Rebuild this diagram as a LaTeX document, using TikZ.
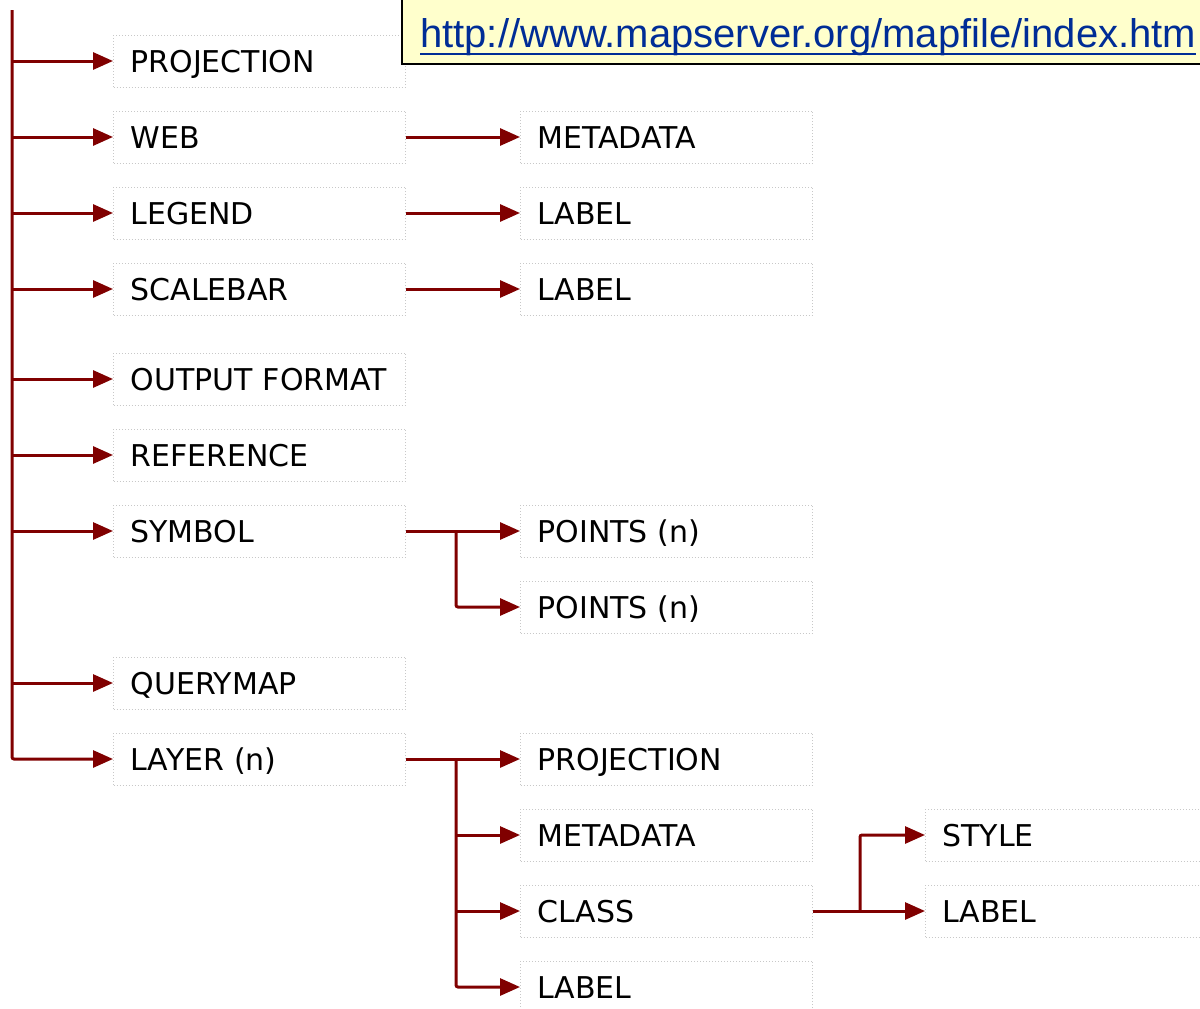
\documentclass[tikz,border=0pt]{standalone}
\usepackage{fontspec}
\setmainfont{DejaVu Sans}
\newfontfamily\urlfont{Liberation Sans}
\usetikzlibrary{arrows.meta}
\definecolor{arrred}{RGB}{128,0,0}
\definecolor{boxgray}{RGB}{200,200,200}
\definecolor{urlbg}{RGB}{255,255,204}
\definecolor{urlblue}{RGB}{0,45,150}
\begin{document}
\begin{tikzpicture}[x=1pt,y=-1pt,
  tbox/.style={draw=boxgray, line width=1pt, dash pattern=on 1pt off 2pt,
    anchor=west, minimum width=292pt, minimum height=52pt, text width=258pt,
    inner xsep=17pt, inner ysep=0pt, text height=22pt, text depth=0pt,
    align=left, font=\fontsize{30}{36}\selectfont},
  conn/.style={draw=arrred, line width=3pt, rounded corners=2pt,
    -{Triangle[length=20pt,width=17pt]}},
  urltext/.style={font=\urlfont\fontsize{40}{48}\selectfont, text=urlblue,
    inner sep=0pt, anchor=base west}]
\useasboundingbox (0,0) rectangle (1200,1009);

% column 1
\node[tbox] (proj)     at (113,61)  {PROJECTION};
\node[tbox] (web)      at (113,137) {WEB};
\node[tbox] (legend)   at (113,213) {LEGEND};
\node[tbox] (scalebar) at (113,289) {SCALEBAR};
\node[tbox] (outfmt)   at (113,379) {OUTPUT FORMAT};
\node[tbox] (ref)      at (113,455) {REFERENCE};
\node[tbox] (symbol)   at (113,531) {SYMBOL};
\node[tbox] (querymap) at (113,683) {QUERYMAP};
\node[tbox] (layer)    at (113,759) {LAYER (n)};

% column 2
\node[tbox] (wmeta)  at (520,137) {METADATA};
\node[tbox] (llabel) at (520,213) {LABEL};
\node[tbox] (slabel) at (520,289) {LABEL};
\node[tbox] (pts1)   at (520,531) {POINTS (n)};
\node[tbox] (pts2)   at (520,607) {POINTS (n)};
\node[tbox] (lproj)  at (520,759) {PROJECTION};
\node[tbox] (lmeta)  at (520,835) {METADATA};
\node[tbox] (class)  at (520,911) {CLASS};
\node[tbox] (llab)   at (520,987) {LABEL};

% column 3
\node[tbox] (style)  at (925,835) {STYLE};
\node[tbox] (clabel) at (925,911) {LABEL};

% connectors
\coordinate (top) at (12,10);
\draw[conn] (top) |- (layer.west);
\foreach \n in {proj,web,legend,scalebar,outfmt,ref,symbol,querymap}
  \draw[conn] (top |- \n.west) -- (\n.west);

\draw[conn] (web.east) -- (wmeta.west);
\draw[conn] (legend.east) -- (llabel.west);
\draw[conn] (scalebar.east) -- (slabel.west);

\coordinate (b1) at (456,531);
\draw[conn] (symbol.east) -- (pts1.west);
\draw[conn] (b1) |- (pts2.west);

\coordinate (b2) at (456,759);
\draw[conn] (layer.east) -- (lproj.west);
\draw[conn] (b2) |- (llab.west);
\draw[conn] (b2 |- lmeta.west) -- (lmeta.west);
\draw[conn] (b2 |- class.west) -- (class.west);

\coordinate (b3) at (860,911);
\draw[conn] (class.east) -- (clabel.west);
\draw[conn] (b3) |- (style.west);

% url box
\fill[urlbg] (401,-5) rectangle (1230,64);
\draw[black, line width=2pt] (402,-5) -- (402,64) -- (1230,64);
\node[urltext] (url) at (420,47) {http://www.mapserver.org/mapfile/index.htm};
\draw[urlblue, line width=2.5pt] ([yshift=-7pt]url.base west) -- ([yshift=-7pt]url.base east);
\end{tikzpicture}
\end{document}
